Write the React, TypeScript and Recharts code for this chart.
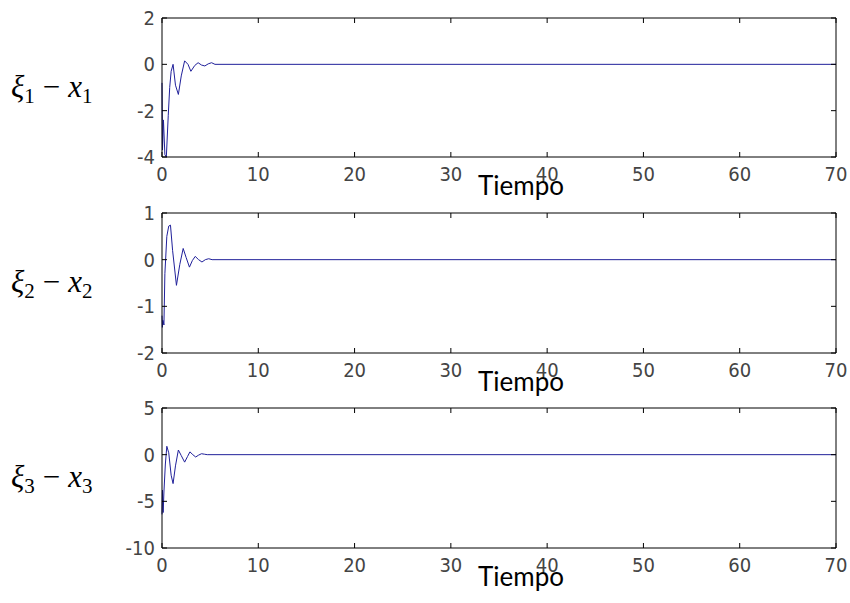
import React from "react";
import { Line, LineChart, XAxis, YAxis } from "recharts";

// shared time axis
const timeTicks = [0, 10, 20, 30, 40, 50, 60, 70];

// xi_1 - x_1
const t1 = [0, 0.05, 0.15, 0.3, 0.45, 0.65, 0.8, 0.95, 1.15, 1.4, 1.7, 2.0, 2.35, 2.7, 3.0, 3.4, 3.75, 4.1, 4.45, 4.8, 5.15, 5.5, 70];
const e1 = [-0.8, -3.7, -2.4, -3.9, -4.0, -2.2, -1.0, -0.3, 0.0, -0.9, -1.3, -0.5, 0.15, 0.0, -0.3, -0.05, 0.07, -0.03, -0.07, 0.02, 0.07, 0, 0];
const yTicks1 = [-4, -2, 0, 2];

// xi_2 - x_2
const t2 = [0, 0.04, 0.1, 0.2, 0.3, 0.5, 0.7, 0.88, 1.1, 1.5, 1.85, 2.2, 2.5, 2.85, 3.15, 3.45, 3.8, 4.15, 4.5, 4.85, 5.2, 70];
const e2 = [-1.2, -1.45, -1.3, -1.4, -0.3, 0.5, 0.72, 0.74, 0.2, -0.55, -0.1, 0.24, 0.05, -0.16, -0.02, 0.07, 0.0, -0.05, 0.0, 0.02, 0, 0];
const yTicks2 = [-2, -1, 0, 1];

// xi_3 - x_3
const t3 = [0, 0.05, 0.12, 0.2, 0.35, 0.5, 0.7, 0.95, 1.15, 1.4, 1.7, 2.0, 2.35, 2.65, 2.9, 3.2, 3.5, 3.8, 4.1, 4.4, 4.7, 70];
const e3 = [-6.4, -3.8, -6.2, -4.0, -1.0, 0.9, 0.2, -2.2, -3.1, -1.2, 0.5, -0.1, -0.8, -0.2, 0.3, 0.0, -0.25, -0.05, 0.1, 0.05, 0, 0];
const yTicks3 = [-10, -5, 0, 5];

const zip = (t: number[], v: number[]) => t.map((x, i) => ({ t: x, v: v[i] }));

const tickFont = "'Liberation Sans Narrow', 'DejaVu Sans Condensed', sans-serif";
const TOP_PAD = 18;
const X_AXIS_H = 45;
const BOTTOM_PAD = 10;

const BottomTick = ({ x, y, payload }: any) => (
  <g>
    <line x1={x} y1={y} x2={x} y2={y - 5} stroke="#000" />
    <text x={x} y={y + 24} textAnchor="middle" fontFamily={tickFont} fontSize={20} fill="#444">
      {payload.value}
    </text>
  </g>
);

const TopTick = ({ x, y }: any) => <line x1={x} y1={y} x2={x} y2={y + 5} stroke="#000" />;

const LeftTick = ({ x, y, payload }: any) => (
  <g>
    <line x1={x} y1={y} x2={x + 5} y2={y} stroke="#000" />
    <text x={x - 7} y={y + 7} textAnchor="end" fontFamily={tickFont} fontSize={20} fill="#444">
      {payload.value}
    </text>
  </g>
);

const RightTick = ({ x, y }: any) => <line x1={x} y1={y} x2={x - 5} y2={y} stroke="#000" />;

type SubplotProps = {
  plotTop: number;
  plotBottom: number;
  t: number[];
  v: number[];
  yTicks: number[];
  index: number;
};

function Subplot({ plotTop, plotBottom, t, v, yTicks, index }: SubplotProps) {
  const data = zip(t, v);
  const height = plotBottom - plotTop + TOP_PAD + X_AXIS_H + BOTTOM_PAD;
  const domain: [number, number] = [yTicks[0], yTicks[yTicks.length - 1]];

  const yLabel = ({ viewBox }: any) => {
    const cy = viewBox.y + viewBox.height / 2 + 9;
    return (
      <text x={11} y={cy} fontFamily="'Liberation Serif', 'DejaVu Serif', serif" fontSize={31} fill="#000">
        <tspan fontStyle="italic">ξ</tspan>
        <tspan fontSize={21} dy={6}>{index}</tspan>
        <tspan dy={-6} dx={8}>−</tspan>
        <tspan fontStyle="italic" dx={8}>x</tspan>
        <tspan fontSize={21} dy={6}>{index}</tspan>
      </text>
    );
  };

  const xLabel = ({ viewBox }: any) => (
    <text x={521} y={viewBox.y + 38} textAnchor="middle" fontFamily="Lato, 'Open Sans', sans-serif" fontSize={26} fill="#000">
      Tiempo
    </text>
  );

  return (
    <div style={{ position: "absolute", left: 0, top: plotTop - TOP_PAD }}>
      <LineChart
        width={850}
        height={height}
        data={data}
        margin={{ top: TOP_PAD - 1, right: 13, left: 0, bottom: BOTTOM_PAD }}
      >
        <XAxis
          dataKey="t"
          type="number"
          domain={[0, 70]}
          ticks={timeTicks}
          height={X_AXIS_H}
          stroke="#000"
          tickSize={0}
          tickMargin={0}
          tick={<BottomTick />}
          label={{ content: xLabel }}
        />
        <XAxis
          xAxisId="top"
          dataKey="t"
          orientation="top"
          type="number"
          domain={[0, 70]}
          ticks={timeTicks}
          height={1}
          stroke="#000"
          tickSize={0}
          tickMargin={0}
          tick={<TopTick />}
        />
        <YAxis
          type="number"
          domain={domain}
          ticks={yTicks}
          width={162}
          stroke="#000"
          tickSize={0}
          tickMargin={0}
          tick={<LeftTick />}
          label={{ content: yLabel }}
        />
        <YAxis
          yAxisId="right"
          orientation="right"
          type="number"
          domain={domain}
          ticks={yTicks}
          width={1}
          stroke="#000"
          tickSize={0}
          tickMargin={0}
          tick={<RightTick />}
        />
        <Line
          dataKey="v"
          type="linear"
          stroke="#20209a"
          strokeWidth={1}
          dot={false}
          isAnimationActive={false}
        />
        {/* same series bound to the top/right axes so the box is drawn */}
        <Line
          dataKey="v"
          xAxisId="top"
          yAxisId="right"
          type="linear"
          stroke="#20209a"
          strokeOpacity={0}
          dot={false}
          activeDot={false}
          isAnimationActive={false}
        />
      </LineChart>
    </div>
  );
}

export default function App() {
  return (
    <div style={{ position: "absolute", left: 0, top: 0, width: 850, height: 603, background: "#fff" }}>
      <Subplot plotTop={18} plotBottom={157} t={t1} v={e1} yTicks={yTicks1} index={1} />
      <Subplot plotTop={213} plotBottom={353} t={t2} v={e2} yTicks={yTicks2} index={2} />
      <Subplot plotTop={408} plotBottom={548} t={t3} v={e3} yTicks={yTicks3} index={3} />
    </div>
  );
}
